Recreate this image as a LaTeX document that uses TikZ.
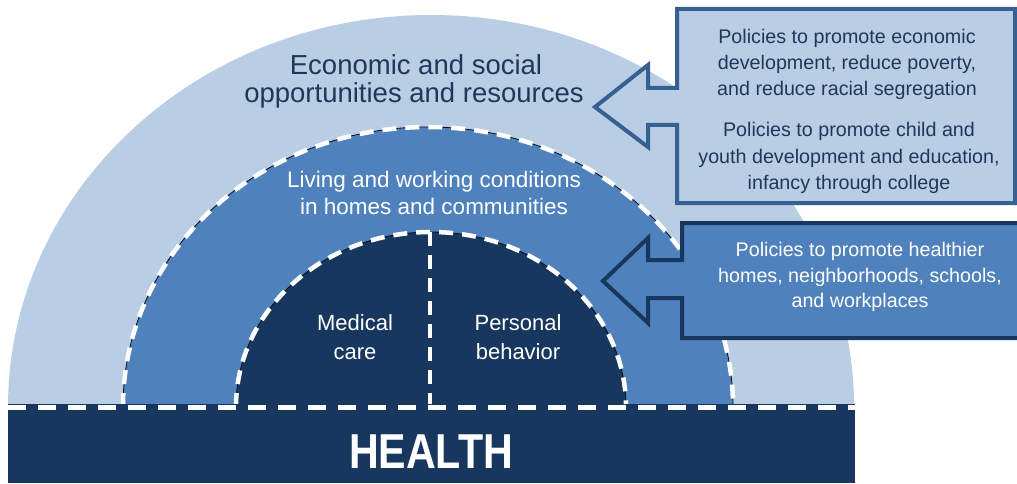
\documentclass[tikz,border=0pt]{standalone}
\usepackage{fontspec}
\setmainfont{Liberation Sans}
\newfontfamily\healthfont[FakeStretch=0.84]{Liberation Sans}
\definecolor{lightblue}{RGB}{185,205,228}
\definecolor{midblue}{RGB}{79,129,189}
\definecolor{navy}{RGB}{23,55,94}
\definecolor{boxborder}{RGB}{55,96,146}
\definecolor{textnavy}{RGB}{31,56,90}
\begin{document}
\begin{tikzpicture}[x=1pt,y=1pt,
  txt/.style={inner sep=0pt, anchor=base},
  bigtxt/.style={txt, text=textnavy, font=\fontsize{27.5}{28}\selectfont},
  ringtxt/.style={txt, text=white, font=\fontsize{22.5}{27}\selectfont},
  coretxt/.style={txt, text=white, font=\fontsize{22}{27}\selectfont},
  poltxt/.style={txt, text=textnavy, font=\fontsize{19.7}{26}\selectfont},
  poltxtw/.style={txt, text=white, font=\fontsize{19.7}{26}\selectfont},
  edgeline/.style={draw=black!70!navy, line width=0.8pt},
  dashw/.style={draw=white, line width=4.5pt, dash pattern=on 14pt off 9pt},
  basedash/.style={draw=white, line width=5pt, dash pattern=on 18pt off 12pt}]
\useasboundingbox (0,0) rectangle (1017,483);
\clip (0,0) rectangle (1017,483);
% outer ring
\fill[lightblue] (8,76) arc[start angle=180,end angle=0,x radius=423pt,y radius=392pt] -- cycle;
% box 1 with arrow
\filldraw[fill=lightblue, draw=boxborder, line width=4pt, line join=miter]
  (1015,474) -- (677,474) -- (677,395) -- (648,395) -- (648,418) -- (595,376)
  -- (648,336) -- (648,358) -- (677,358) -- (677,280) -- (1015,280) -- cycle;
% middle ring
\fill[midblue] (123,76) arc[start angle=180,end angle=0,x radius=305pt,y radius=280pt] -- cycle;
\draw[edgeline] (123,76) arc[start angle=180,end angle=0,x radius=305pt,y radius=280pt];
\draw[dashw] (123,76) arc[start angle=180,end angle=0,x radius=305pt,y radius=280pt];
% inner core
\fill[navy] (236,76) arc[start angle=180,end angle=0,x radius=195pt,y radius=175pt] -- cycle;
\draw[edgeline] (236,76) arc[start angle=180,end angle=0,x radius=195pt,y radius=175pt];
\draw[dashw] (236,76) arc[start angle=180,end angle=0,x radius=195pt,y radius=175pt];
% box 2 with arrow
\filldraw[fill=midblue, draw=navy, line width=4pt, line join=miter]
  (1030,260) -- (682,260) -- (682,223) -- (648,223) -- (648,245) -- (603,202)
  -- (648,160) -- (648,185) -- (682,185) -- (682,145) -- (1030,145) -- cycle;
% divider
\coordinate (dtop) at (430,251);
\coordinate (dbot) at (430,78);
\draw[dashw] (dtop) -- (dbot);
% health bar
\fill[navy] (8,0) rectangle (855,79);
\coordinate (bl) at (8,76);
\coordinate (br) at (855,76);
\draw[basedash] (bl) -- (br);
\node[txt, text=white, font=\healthfont\bfseries\fontsize{49}{50}\selectfont] (health) at (431,15) {HEALTH};
% texts
\node[bigtxt] (e1) at (416,408) {Economic and social};
\node[bigtxt] (e2) at (414,380) {opportunities and resources};
\node[ringtxt] (l1) at (434,296) {Living and working conditions};
\node[ringtxt] (l2) at (434,269) {in homes and communities};
\node[coretxt] (m1) at (355,153) {Medical};
\node[coretxt] (m2) at (355,124) {care};
\node[coretxt] (p1) at (518,153) {Personal};
\node[coretxt] (p2) at (518,124) {behavior};
\node[poltxt] (a1) at (847,439) {Policies to promote economic};
\node[poltxt] (a2) at (847,413) {development, reduce poverty,};
\node[poltxt] (a3) at (847,387) {and reduce racial segregation};
\node[poltxt] (b1) at (849,346) {Policies to promote child and};
\node[poltxt] (b2) at (849,320) {youth development and education,};
\node[poltxt] (b3) at (849,294) {infancy through college};
\node[poltxtw] (c1) at (860,227) {Policies to promote healthier};
\node[poltxtw] (c2) at (860,201) {homes, neighborhoods, schools,};
\node[poltxtw] (c3) at (860,176) {and workplaces};
\end{tikzpicture}
\end{document}
